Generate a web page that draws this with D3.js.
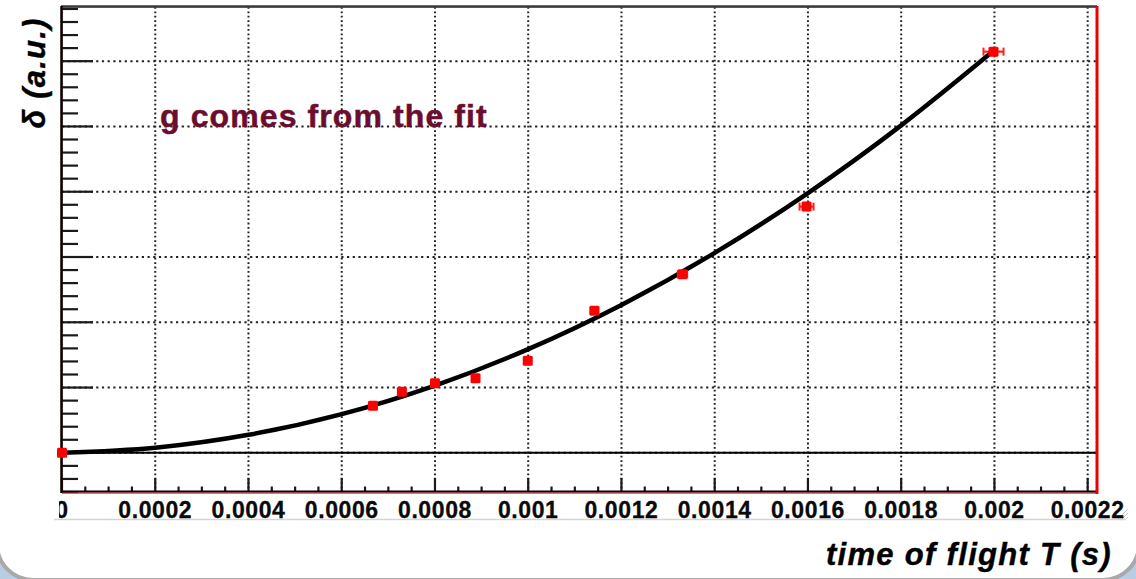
<!DOCTYPE html>
<html>
<head>
<meta charset="utf-8">
<script src="https://cdn.jsdelivr.net/npm/d3@7"></script>
<style>
  html, body { margin: 0; padding: 0; background: #ffffff; }
  svg { display: block; }
</style>
</head>
<body>
<svg id="chart" width="1136" height="579"></svg>
<script>
// ---- data ----
const timeT   = [0, 0.000667, 0.000729, 0.0008, 0.000887, 0.000999, 0.001142, 0.001331, 0.001597, 0.001998];
const delta   = [0, 0.72, 0.934, 1.067, 1.144, 1.409, 2.175, 2.736, 3.772, 6.146];
const timeErr = [0.000004, 0.000004, 0.000004, 0.000005, 0.000005, 0.000006, 0.000008, 0.00001, 0.000015, 0.0000215];
const deltaErr= [0.03, 0.03, 0.04, 0.05, 0.05, 0.07, 0.04, 0.03, 0.03, 0.03];
// fit curve
const fitT     = [0, 0.0002, 0.0004, 0.0006, 0.0008, 0.001, 0.0012, 0.0014, 0.0016, 0.0018, 0.002];
const fitDelta = [0, 0.078, 0.276, 0.594, 1.031, 1.589, 2.266, 3.063, 3.98, 5.017, 6.17];
// axes
const xTickLabels = ["0", "0.0002", "0.0004", "0.0006", "0.0008", "0.001", "0.0012", "0.0014", "0.0016", "0.0018", "0.002", "0.0022"];
const xMinorStep = 0.00005;
const yMajorTicks = [0, 1, 2, 3, 4, 5, 6];
const yMinorStep = 0.2;
const xTitle = "time of flight T (s)";
const yTitle = "δ (a.u.)";
const note = "g comes from the fit";

// ---- layout ----
const svg = d3.select("#chart");
const L = 62, R = 1097, T = 7, B = 492;
const x = d3.scaleLinear().domain([0, 0.00222]).range([L, R]);
const y = d3.scaleLinear().domain([-0.6, 6.83]).range([B, T]);

// slide background with rounded white panel
svg.append("rect").attr("x", 0).attr("y", 0).attr("width", 1136).attr("height", 579).attr("fill", "#b9cde2");
svg.append("rect").attr("x", -3).attr("y", -60).attr("width", 1142).attr("height", 640)
  .attr("rx", 36).attr("ry", 36).attr("fill", "#ffffff").attr("stroke", "#a9a9a9").attr("stroke-width", 4);

// light gray edge of pasted image
svg.append("line").attr("x1", 54).attr("x2", 1126).attr("y1", 519.5).attr("y2", 519.5)
  .attr("stroke", "#d4d4d4").attr("stroke-width", 1.5);
[0, 4, 8].forEach(o => {
  svg.append("line").attr("x1", 1118 + o).attr("y1", 519).attr("x2", 1128).attr("y2", 509 + o)
    .attr("stroke", "#c8c8c8").attr("stroke-width", 1);
});

const g = svg.append("g");

// dotted grid
const xMajor = xTickLabels.map(s => +s).filter(v => v > 0);
g.selectAll("line.vgrid").data(xMajor).enter().append("line")
  .attr("x1", d => x(d)).attr("x2", d => x(d)).attr("y1", T).attr("y2", B)
  .attr("stroke", "#222").attr("stroke-width", 2).attr("stroke-dasharray", "1.8,2.6");
g.selectAll("line.hgrid").data(yMajorTicks).enter().append("line")
  .attr("x1", L).attr("x2", R).attr("y1", d => y(d)).attr("y2", d => y(d))
  .attr("stroke", "#222").attr("stroke-width", 2).attr("stroke-dasharray", "2.2,3.5");

// zero line
g.append("line").attr("x1", L).attr("x2", R).attr("y1", y(0)).attr("y2", y(0))
  .attr("stroke", "#000").attr("stroke-width", 2);

// y ticks (left)
const yMinor = d3.range(-0.6, 6.83, yMinorStep).map(v => Math.round(v * 10) / 10);
g.selectAll("line.ytick").data(yMinor).enter().append("line")
  .attr("x1", L).attr("y1", d => y(d)).attr("y2", d => y(d))
  .attr("x2", d => yMajorTicks.includes(d) ? L + 31 : L + 16)
  .attr("stroke", "#1a1a1a").attr("stroke-width", 2.2);

// x ticks
const xMinor = d3.range(0, 0.00222, xMinorStep).map(v => Math.round(v * 1e6) / 1e6);
g.selectAll("line.xtick").data(xMinor).enter().append("line")
  .attr("x1", d => x(d)).attr("x2", d => x(d)).attr("y1", B)
  .attr("y2", d => (Math.round(d / xMinorStep) % 4 === 0) ? B - 14 : B - 5.5)
  .attr("stroke", "#1a1a1a").attr("stroke-width", 2.2);

// frame
g.append("rect").attr("x", L).attr("y", T).attr("width", R - L).attr("height", B - T)
  .attr("fill", "none").attr("stroke", "#e03030").attr("stroke-width", 1);
g.append("line").attr("x1", L - 1).attr("x2", R).attr("y1", T - 0.5).attr("y2", T - 0.5).attr("stroke", "#3a3a3a").attr("stroke-width", 2.5);
g.append("line").attr("x1", L - 0.5).attr("x2", L - 0.5).attr("y1", T - 1).attr("y2", B + 1).attr("stroke", "#000").attr("stroke-width", 2.5);
g.append("line").attr("x1", L - 1).attr("x2", R).attr("y1", B - 0.5).attr("y2", B - 0.5).attr("stroke", "#000").attr("stroke-width", 2);
g.append("line").attr("x1", L).attr("x2", R).attr("y1", B + 1.2).attr("y2", B + 1.2).attr("stroke", "#e03030").attr("stroke-width", 1);
g.append("line").attr("x1", R).attr("x2", R).attr("y1", T - 1).attr("y2", B + 2).attr("stroke", "#ee0000").attr("stroke-width", 3);

// x tick labels
svg.append("clipPath").attr("id", "lblclip").append("rect")
  .attr("x", 59).attr("y", 490).attr("width", 1080).attr("height", 40);
svg.append("g").attr("clip-path", "url(#lblclip)")
  .selectAll("text").data(xTickLabels).enter().append("text")
  .attr("x", d => x(+d)).attr("y", 517.5)
  .attr("text-anchor", "middle")
  .attr("font-family", "'Liberation Sans', Arial, sans-serif")
  .attr("font-weight", "bold").attr("font-size", 23)
  .attr("letter-spacing", 0.6)
  .attr("fill", "#0a0a0a")
  .attr("stroke", "#0a0a0a").attr("stroke-width", 0.3)
  .text(d => d);

// fit curve
const line = d3.line().x(d => x(d[0])).y(d => y(d[1])).curve(d3.curveMonotoneX);
g.append("path").datum(fitT.map((t, i) => [t, fitDelta[i]]))
  .attr("d", line).attr("fill", "none").attr("stroke", "#000").attr("stroke-width", 4.5)
  .attr("stroke-linecap", "round");

// data points with error bars
const pts = timeT.map((t, i) => ({ t, d: delta[i], et: timeErr[i], ed: deltaErr[i] }));
const pg = g.append("g");
pts.forEach(p => {
  const cx = x(p.t), cy = y(p.d);
  const x0 = x(p.t - p.et), x1 = x(p.t + p.et);
  pg.append("line").attr("x1", x0).attr("x2", x1).attr("y1", cy).attr("y2", cy)
    .attr("stroke", "#ff2020").attr("stroke-width", 2.2);
  [x0, x1].forEach(xe => pg.append("line").attr("x1", xe).attr("x2", xe).attr("y1", cy - 4).attr("y2", cy + 4)
    .attr("stroke", "#ff2020").attr("stroke-width", 2));
  const h = Math.max(10, Math.abs(y(p.d - p.ed) - y(p.d + p.ed)));
  pg.append("rect").attr("x", cx - 5).attr("y", cy - h / 2).attr("width", 10).attr("height", h)
    .attr("rx", 1.5).attr("fill", "#ff0000");
});

// annotation text
svg.append("text").attr("x", 160).attr("y", 127)
  .attr("font-family", "'Liberation Sans', Arial, sans-serif")
  .attr("font-weight", "bold").attr("font-size", 32)
  .attr("letter-spacing", 1.1)
  .attr("fill", "#6a0d2e")
  .attr("stroke", "#6a0d2e").attr("stroke-width", 0.5)
  .text(note);

// axis titles
svg.append("text").attr("x", 1112).attr("y", 565)
  .attr("text-anchor", "end")
  .attr("font-family", "'Liberation Sans', Arial, sans-serif")
  .attr("font-weight", "bold").attr("font-style", "italic").attr("font-size", 31)
  .attr("letter-spacing", 1.3)
  .attr("fill", "#000")
  .attr("stroke", "#000").attr("stroke-width", 0.4)
  .text(xTitle);
svg.append("text").attr("transform", "translate(45,73) rotate(-90)")
  .attr("text-anchor", "middle")
  .attr("font-family", "'Liberation Sans', Arial, sans-serif")
  .attr("font-weight", "bold").attr("font-style", "italic").attr("font-size", 31)
  .attr("letter-spacing", 1.2)
  .attr("fill", "#000")
  .attr("stroke", "#000").attr("stroke-width", 0.4)
  .text(yTitle);
</script>
</body>
</html>
